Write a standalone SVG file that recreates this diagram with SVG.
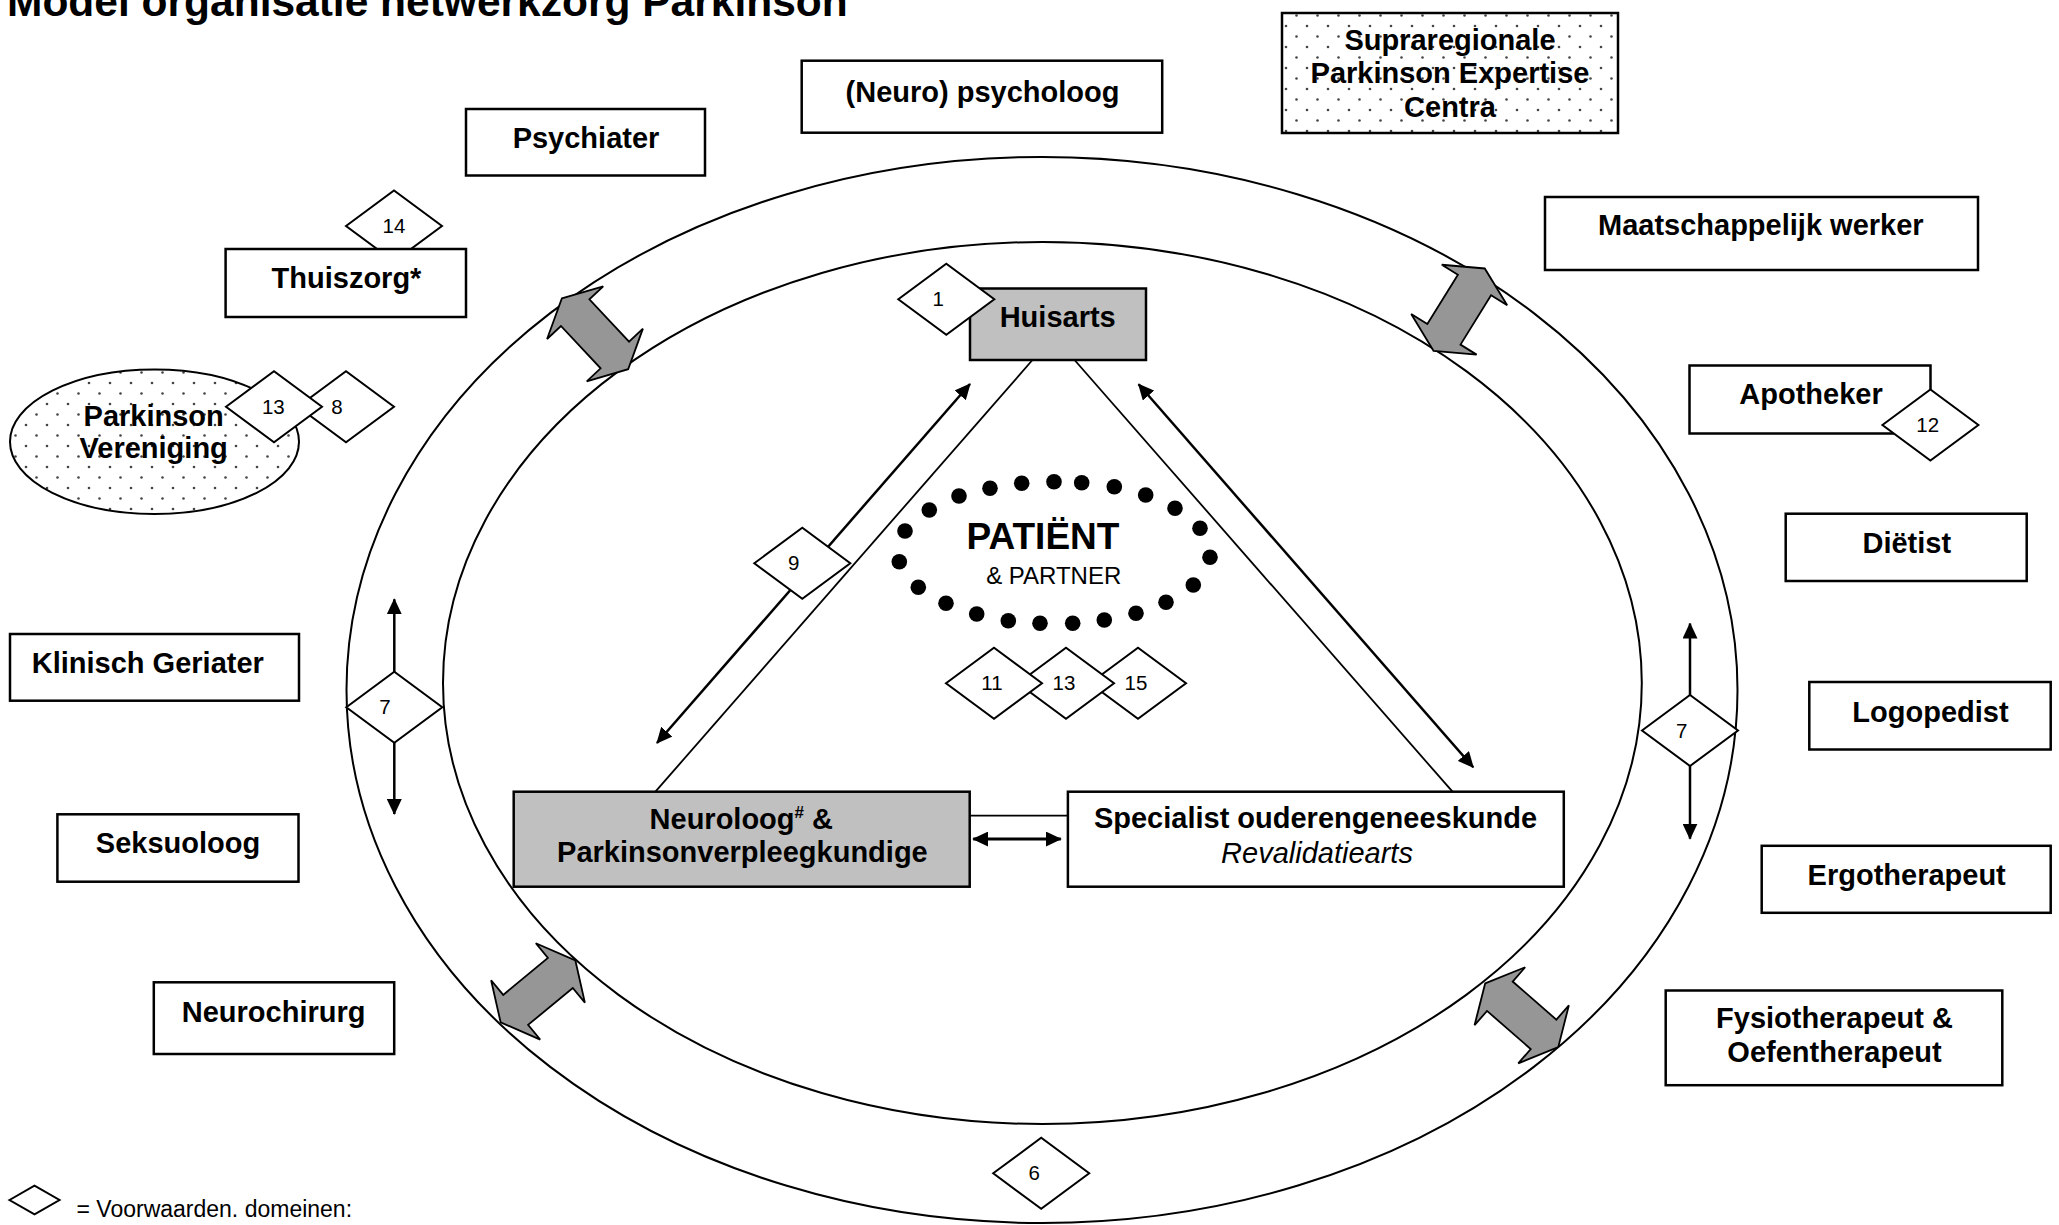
<svg xmlns="http://www.w3.org/2000/svg" xmlns:xlink="http://www.w3.org/1999/xlink" width="2059" height="1225" viewBox="0 0 2059 1225">
<style>
.box{fill:#fff;stroke:#000;stroke-width:2.5}
.gbox{fill:#c0c0c0;stroke:#000;stroke-width:2.5}
.lbl{font-family:"Liberation Sans",Arial,sans-serif;font-weight:bold;font-size:29px;text-anchor:middle;fill:#000}
.dia{fill:#fff;stroke:#000;stroke-width:2}
.num{font-family:"Liberation Sans",Arial,sans-serif;font-size:20.5px;text-anchor:middle;fill:#000}
.ring{fill:none;stroke:#000;stroke-width:2}
.ln{stroke:#000;stroke-width:1.8;fill:none}
.arr{stroke:#000;stroke-width:2.5;fill:none;marker-start:url(#ah);marker-end:url(#ah)}
.arr1{stroke:#000;stroke-width:2.5;fill:none;marker-end:url(#ah)}
.blk{fill:#969696;stroke:#000;stroke-width:1.8;stroke-linejoin:miter}
.dot{fill:#000}
</style>
<defs>
<marker id="ah" viewBox="0 0 16 15" refX="15" refY="7.5" markerWidth="16" markerHeight="15" markerUnits="userSpaceOnUse" orient="auto-start-reverse"><path d="M0,0 L16,7.5 L0,15 Z" fill="#000"/></marker>
<pattern id="dots" width="21" height="21" patternUnits="userSpaceOnUse"><circle cx="5" cy="5" r="1.3" fill="#444"/><circle cx="15.5" cy="15.5" r="1.3" fill="#444"/></pattern>
<polygon id="dm" points="-48,0 0,-35.5 48,0 0,35.5"/>
<path id="blkarrow" d="M-48.5,0 L-29,-38.5 L-29,-19.5 L29,-19.5 L29,-38.5 L48.5,0 L29,38.5 L29,19.5 L-29,19.5 L-29,38.5 Z"/>
</defs>
<rect width="2059" height="1225" fill="#fff"/>

<text x="7" y="16" style="font-family:'Liberation Sans',Arial,sans-serif;font-weight:bold;font-size:42.5px">Model organisatie netwerkzorg Parkinson</text>

<g id="rings">
<ellipse class="ring" cx="1042" cy="690" rx="695.5" ry="533"/>
<ellipse class="ring" cx="1042.4" cy="683" rx="599.4" ry="441"/>
</g>

<g id="connectors">
<line class="ln" x1="1032" y1="360.5" x2="655.4" y2="791.7"/>
<line class="ln" x1="1075" y1="360.5" x2="1452.5" y2="791.7"/>
<line class="arr" x1="970" y1="384" x2="657" y2="743"/>
<line class="arr" x1="1138.6" y1="384.3" x2="1473.2" y2="767.3"/>
<line class="ln" x1="969.7" y1="815.7" x2="1067.9" y2="815.7"/>
<line class="arr" x1="973.2" y1="839" x2="1060.8" y2="839" style="stroke-width:3"/>
<line class="arr1" x1="394.3" y1="672" x2="394.3" y2="599.3"/>
<line class="arr1" x1="394.3" y1="742" x2="394.3" y2="814"/>
<line class="arr1" x1="1690" y1="696" x2="1690" y2="623.5"/>
<line class="arr1" x1="1690" y1="765" x2="1690" y2="838.7"/>
<use xlink:href="#blkarrow" class="blk" transform="translate(595,333.8) rotate(46.85)"/>
<use xlink:href="#blkarrow" class="blk" transform="translate(1459.2,309.7) rotate(-58.2)"/>
<use xlink:href="#blkarrow" class="blk" transform="translate(538,991.4) rotate(-39.6)"/>
<use xlink:href="#blkarrow" class="blk" transform="translate(1521.7,1015.3) rotate(41.1)"/>
</g>

<g id="psychiater"><rect class="box" x="466" y="109" width="239" height="66.5"/><text class="lbl" x="586" y="148">Psychiater</text></g>
<g id="neuropsycholoog"><rect class="box" x="801.7" y="60.7" width="360.5" height="72"/><text class="lbl" x="982.5" y="101.7">(Neuro) psycholoog</text></g>
<g id="supraregionale"><rect x="1282" y="13" width="336" height="120" fill="#fff"/><rect x="1282" y="13" width="336" height="120" fill="url(#dots)" stroke="#000" stroke-width="2.5"/><text class="lbl" x="1450" y="50">Supraregionale</text><text class="lbl" x="1450" y="83.3">Parkinson Expertise</text><text class="lbl" x="1450" y="116.7">Centra</text></g>
<g id="maatschappelijk"><rect class="box" x="1545" y="197" width="433" height="73"/><text class="lbl" x="1760.8" y="235">Maatschappelijk werker</text></g>
<g id="apotheker"><rect class="box" x="1689.5" y="365.5" width="241" height="68"/><text class="lbl" x="1811" y="404">Apotheker</text></g>
<g id="dietist"><rect class="box" x="1785.7" y="513.7" width="241" height="67.3"/><text class="lbl" x="1906.8" y="553.3">Diëtist</text></g>
<g id="logopedist"><rect class="box" x="1809.3" y="682" width="241.4" height="67.5"/><text class="lbl" x="1930.5" y="721.8">Logopedist</text></g>
<g id="ergotherapeut"><rect class="box" x="1761.7" y="845.8" width="289" height="67"/><text class="lbl" x="1906.7" y="885">Ergotherapeut</text></g>
<g id="fysiotherapeut"><rect class="box" x="1665.7" y="990.5" width="336.6" height="94.7"/><text class="lbl" x="1834.5" y="1028.2">Fysiotherapeut &amp;</text><text class="lbl" x="1834.5" y="1061.8">Oefentherapeut</text></g>
<g id="thuiszorg"><use xlink:href="#dm" class="dia" x="394" y="226"/><text class="num" x="394" y="233">14</text><rect class="box" x="225.6" y="249" width="240.4" height="68"/><text class="lbl" x="346.5" y="288">Thuiszorg*</text></g>
<g id="parkinsonvereniging"><ellipse cx="154.5" cy="441.7" rx="144.5" ry="72.3" fill="#fff"/><ellipse cx="154.5" cy="441.7" rx="144.5" ry="72.3" fill="url(#dots)" stroke="#000" stroke-width="2"/><text class="lbl" x="153.7" y="426">Parkinson</text><text class="lbl" x="153.7" y="458.3">Vereniging</text>
<use xlink:href="#dm" class="dia" x="346" y="406.7"/><text class="num" x="337" y="413.7">8</text>
<use xlink:href="#dm" class="dia" x="274" y="406.7"/><text class="num" x="273.3" y="413.7">13</text></g>
<g id="klinischgeriater"><rect class="box" x="10" y="634" width="289" height="66.7"/><text class="lbl" x="147.8" y="672.7">Klinisch Geriater</text></g>
<g id="seksuoloog"><rect class="box" x="57.4" y="814.3" width="241.1" height="67.4"/><text class="lbl" x="178" y="853.3">Seksuoloog</text></g>
<g id="neurochirurg"><rect class="box" x="153.8" y="982.3" width="240.4" height="71.7"/><text class="lbl" x="273.6" y="1021.7">Neurochirurg</text></g>
<g id="huisarts"><rect class="gbox" x="970" y="288.5" width="176" height="71.5"/><text class="lbl" x="1057.7" y="326.7">Huisarts</text><use xlink:href="#dm" class="dia" x="946.3" y="299.3"/><text class="num" x="938.3" y="306.3">1</text></g>
<g id="apotheker-dia"><use xlink:href="#dm" class="dia" x="1930.4" y="425"/><text class="num" x="1927.7" y="432">12</text></g>
<g id="patient">
<circle class="dot" cx="990" cy="488.3" r="7.8"/><circle class="dot" cx="1021.7" cy="483.3" r="7.8"/><circle class="dot" cx="1054" cy="481.7" r="7.8"/><circle class="dot" cx="1081.7" cy="482.7" r="7.8"/><circle class="dot" cx="1114.3" cy="486.7" r="7.8"/><circle class="dot" cx="1145.7" cy="495" r="7.8"/><circle class="dot" cx="1175" cy="508.3" r="7.8"/><circle class="dot" cx="1200" cy="528.3" r="7.8"/><circle class="dot" cx="1210" cy="557.3" r="7.8"/><circle class="dot" cx="1193.3" cy="585" r="7.8"/><circle class="dot" cx="1166" cy="602.3" r="7.8"/><circle class="dot" cx="1136" cy="613.3" r="7.8"/><circle class="dot" cx="1104.3" cy="620" r="7.8"/><circle class="dot" cx="1072.7" cy="623.3" r="7.8"/><circle class="dot" cx="1040" cy="623.3" r="7.8"/><circle class="dot" cx="1008.3" cy="620.7" r="7.8"/><circle class="dot" cx="976.7" cy="614" r="7.8"/><circle class="dot" cx="946" cy="603.3" r="7.8"/><circle class="dot" cx="918.3" cy="587.3" r="7.8"/><circle class="dot" cx="899.3" cy="561.7" r="7.8"/><circle class="dot" cx="905" cy="531" r="7.8"/><circle class="dot" cx="929.3" cy="510" r="7.8"/><circle class="dot" cx="959" cy="496" r="7.8"/>
<text x="1043" y="549.3" style="font-family:'Liberation Sans',Arial,sans-serif;font-weight:bold;font-size:37px;text-anchor:middle">PATIËNT</text>
<text x="1053.7" y="584" style="font-family:'Liberation Sans',Arial,sans-serif;font-size:24px;text-anchor:middle">&amp; PARTNER</text>
</g>
<g id="patient-dia"><use xlink:href="#dm" class="dia" x="1138" y="683.3"/><text class="num" x="1136" y="690.3">15</text><use xlink:href="#dm" class="dia" x="1066" y="683.2"/><text class="num" x="1064" y="690.2">13</text><use xlink:href="#dm" class="dia" x="994" y="683.2"/><text class="num" x="992" y="690.2">11</text></g>
<g id="dia9"><use xlink:href="#dm" class="dia" x="802.3" y="563.3"/><text class="num" x="793.8" y="570.3">9</text></g>
<g id="dia7l"><use xlink:href="#dm" class="dia" x="394.3" y="707.3"/><text class="num" x="385" y="714.3">7</text></g>
<g id="dia7r"><use xlink:href="#dm" class="dia" x="1690" y="730.5"/><text class="num" x="1681.7" y="737.5">7</text></g>
<g id="dia6"><use xlink:href="#dm" class="dia" x="1041.2" y="1173.3"/><text class="num" x="1034.2" y="1180.3">6</text></g>
<g id="neuroloog"><rect class="gbox" x="513.7" y="791.7" width="456" height="95"/><text class="lbl" x="741.3" y="829.3">Neuroloog<tspan font-size="17" dy="-11">#</tspan><tspan dy="11"> &amp;</tspan></text><text class="lbl" x="742.4" y="861.7">Parkinsonverpleegkundige</text></g>
<g id="specialist"><rect class="box" x="1067.9" y="791.7" width="495.9" height="95"/><text class="lbl" x="1315.5" y="828.3">Specialist ouderengeneeskunde</text><text x="1317" y="862.7" style="font-family:'Liberation Sans',Arial,sans-serif;font-style:italic;font-size:29px;text-anchor:middle">Revalidatiearts</text></g>
<g id="legend"><polygon class="dia" points="9.5,1200 34.5,1185.7 59.5,1200 34.5,1214.3"/><text x="76.5" y="1216.7" style="font-family:'Liberation Sans',Arial,sans-serif;font-size:23px">= Voorwaarden. domeinen:</text></g>
</svg>
